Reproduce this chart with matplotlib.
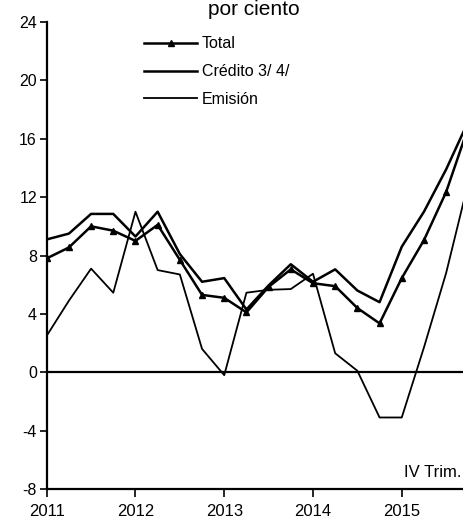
import matplotlib
matplotlib.use("Agg")
import matplotlib.pyplot as plt

plt.rcParams['font.family'] = ['Liberation Sans', 'DejaVu Sans']

# quarterly data, 2011 I - 2015 IV
years = [2011, 2012, 2013, 2014, 2015]
total = [7.8, 8.55, 10.0, 9.7, 9.0, 10.1, 7.7, 5.3, 5.1, 4.1,
         5.85, 7.05, 6.1, 5.9, 4.4, 3.35, 6.45, 9.05, 12.35, 16.8]
credito = [9.1, 9.5, 10.85, 10.85, 9.3, 11.0, 8.1, 6.2, 6.45, 4.3,
           5.95, 7.4, 6.2, 7.05, 5.6, 4.8, 8.6, 11.0, 13.9, 17.2]
emision = [2.5, 4.9, 7.1, 5.45, 11.0, 7.0, 6.7, 1.6, -0.2, 5.45,
           5.65, 5.7, 6.75, 1.3, 0.1, -3.1, -3.1, 1.7, 6.8, 13.0]
yticks = [-8, -4, 0, 4, 8, 12, 16, 20, 24]

x = [y + q / 4 for y in years for q in range(4)]

fig = plt.figure(figsize=(4.63, 5.2), dpi=100)
ax = fig.add_axes([46.7 / 463, 31 / 520, 1 - 46.7 / 463, 467 / 520])

ax.axhline(0, color='black', lw=1.6, zorder=1)
ax.plot(x, total, color='black', lw=1.8, marker='^', markersize=5, label='Total', zorder=3)
ax.plot(x, credito, color='black', lw=1.8, label='Crédito 3/ 4/', zorder=2)
ax.plot(x, emision, color='black', lw=1.3, label='Emisión', zorder=2)

ax.set_ylim(-8, 24)
ax.set_xlim(2011, 2015.69)
ax.set_yticks(yticks)
ax.set_yticklabels([str(v) for v in yticks], fontsize=11.5)
ax.set_xticks(years)
ax.set_xticklabels([str(v) for v in years], fontsize=12)
ax.tick_params(axis='y', direction='out', length=5, width=1.2, pad=2)
ax.tick_params(axis='x', direction='out', length=6, width=1.2, pad=5)

for s in ['top', 'right']:
    ax.spines[s].set_visible(False)
ax.spines['left'].set_linewidth(1.6)
ax.spines['bottom'].set_linewidth(1.6)

leg = ax.legend(loc='upper left', bbox_to_anchor=(0.2, 1.0), frameon=False,
                fontsize=11.5, handlelength=3.3, handletextpad=0.3,
                labelspacing=0.8)

ax.text(0.995, 0.02, 'IV Trim.', transform=ax.transAxes, ha='right',
        va='bottom', fontsize=12)

fig.text(253.5 / 463, 1 - 15 / 520, 'por ciento', ha='center', va='baseline',
         fontsize=15)

fig.savefig('out.png', dpi=100)
